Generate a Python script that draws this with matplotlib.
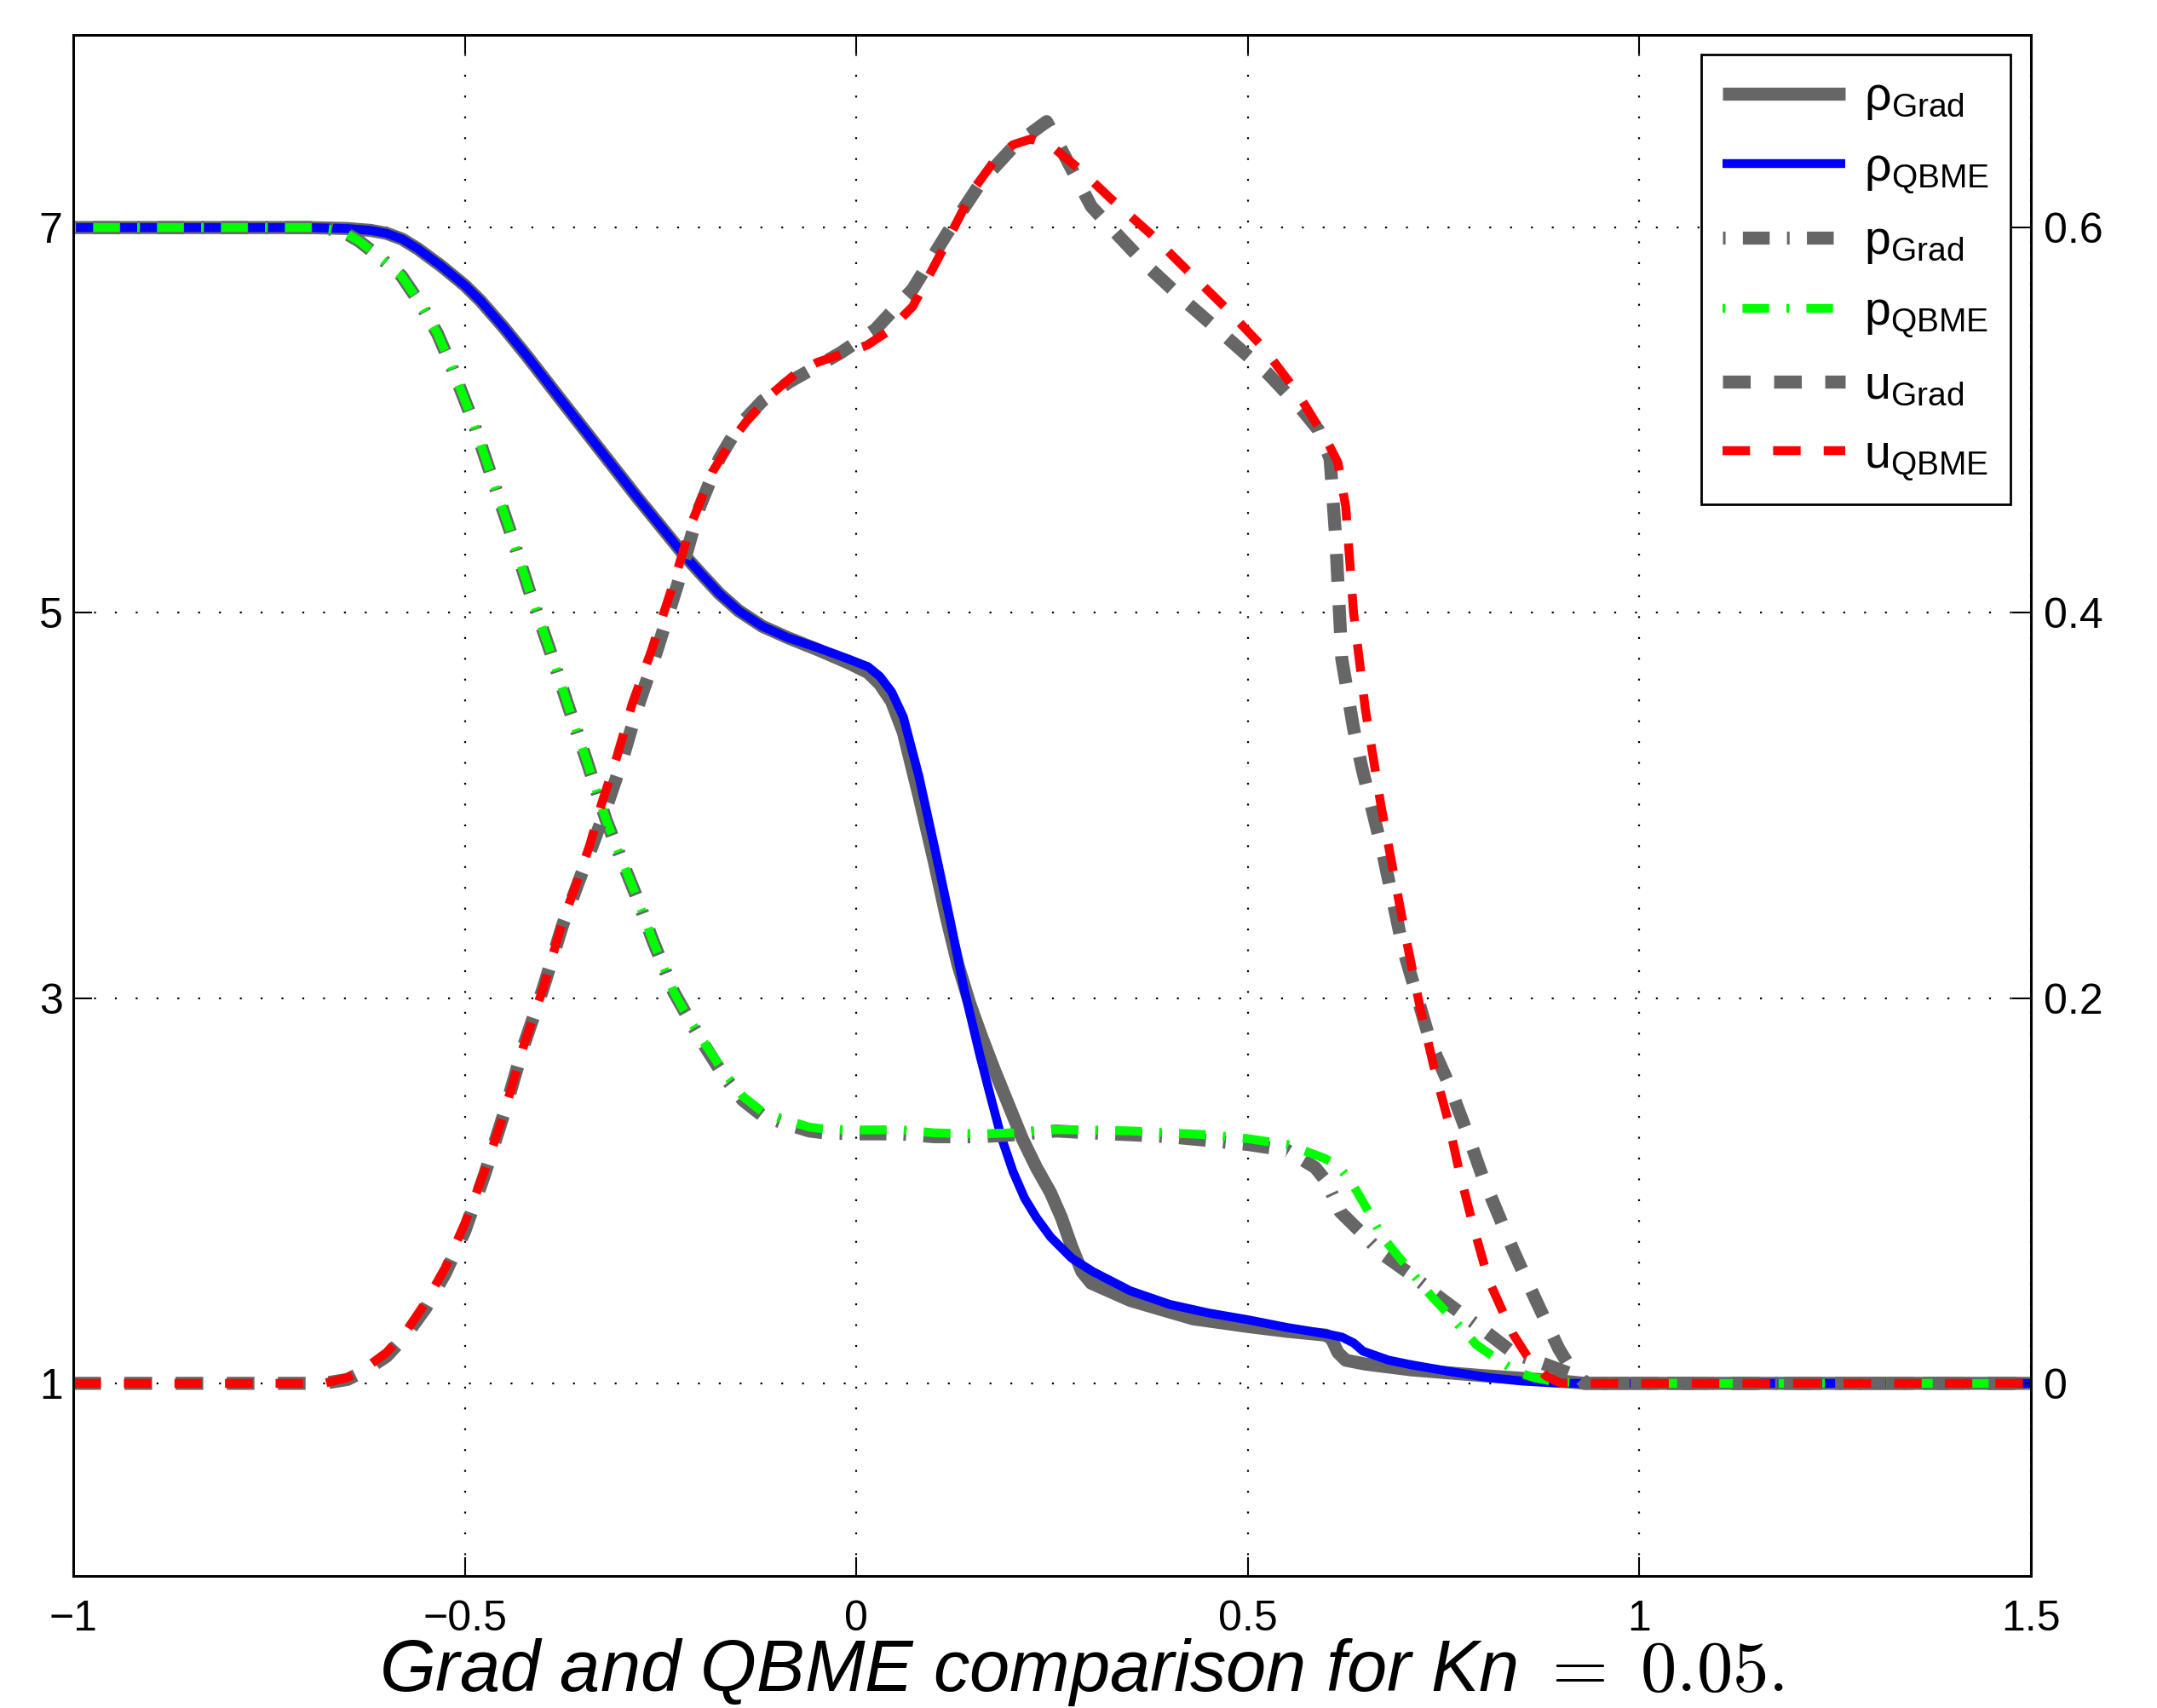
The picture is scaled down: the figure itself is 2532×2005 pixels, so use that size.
import numpy as np
import matplotlib
matplotlib.use('Agg')
from matplotlib import pyplot as plt

plt.rcParams['font.family'] = ['Liberation Sans', 'DejaVu Sans']
plt.rcParams['mathtext.fontset'] = 'custom'
plt.rcParams['mathtext.rm'] = 'Liberation Sans'
plt.rcParams['mathtext.it'] = 'Liberation Sans:italic'
plt.rcParams['axes.unicode_minus'] = True

# ---- data ----
# density (left axis)
x_rho_grad = [-1.0, -0.7, -0.65, -0.62, -0.6, -0.58, -0.56, -0.53, -0.5, -0.48, -0.45, -0.42, -0.38,
              -0.33, -0.28, -0.25, -0.22, -0.2, -0.175, -0.15, -0.12, -0.087, -0.05, -0.01, 0.015, 0.03,
              0.045, 0.06, 0.08, 0.1, 0.115, 0.13, 0.145, 0.16, 0.176, 0.195, 0.212, 0.23, 0.248, 0.262,
              0.275, 0.288, 0.3, 0.35, 0.43, 0.5, 0.55, 0.6, 0.607, 0.615, 0.625, 0.65, 0.709, 0.8, 0.9,
              0.93, 1.0, 1.5]
rho_grad = [7.0, 7.0, 6.995, 6.985, 6.97, 6.94, 6.89, 6.80, 6.70, 6.62, 6.48, 6.33, 6.12,
            5.86, 5.60, 5.45, 5.30, 5.21, 5.10, 5.01, 4.93, 4.87, 4.81, 4.74, 4.69, 4.63,
            4.54, 4.38, 4.05, 3.70, 3.42, 3.17, 2.97, 2.80, 2.63, 2.44, 2.27, 2.12, 1.99, 1.86,
            1.71, 1.58, 1.52, 1.43, 1.335, 1.295, 1.27, 1.25, 1.23, 1.16, 1.12, 1.10, 1.07, 1.04, 1.012,
            1.0, 1.0, 1.0]

x_rho_qbme = [-1.0, -0.7, -0.65, -0.62, -0.6, -0.58, -0.56, -0.53, -0.5, -0.48, -0.45, -0.42, -0.38,
              -0.33, -0.28, -0.25, -0.22, -0.2, -0.175, -0.15, -0.12, -0.087, -0.05, -0.01, 0.015, 0.03,
              0.045, 0.06, 0.08, 0.1, 0.12, 0.138, 0.158, 0.172, 0.185, 0.2, 0.215, 0.23, 0.248, 0.275,
              0.302, 0.35, 0.4, 0.45, 0.5, 0.55, 0.6, 0.62, 0.635, 0.647, 0.68, 0.709, 0.76, 0.807, 0.85,
              0.9, 1.0, 1.5]
rho_qbme = [7.0, 7.0, 6.995, 6.985, 6.97, 6.94, 6.89, 6.80, 6.70, 6.62, 6.48, 6.33, 6.12,
            5.86, 5.60, 5.45, 5.30, 5.21, 5.10, 5.01, 4.93, 4.87, 4.82, 4.76, 4.72, 4.67,
            4.59, 4.46, 4.15, 3.78, 3.40, 3.04, 2.70, 2.48, 2.28, 2.10, 1.96, 1.86, 1.76, 1.65,
            1.58, 1.48, 1.41, 1.365, 1.33, 1.29, 1.257, 1.24, 1.21, 1.167, 1.12, 1.096, 1.06, 1.03, 1.012,
            1.0, 1.0, 1.0]

# pressure (left axis)
x_p_grad = [-1.0, -0.69, -0.67, -0.652, -0.635, -0.61, -0.581, -0.556, -0.535, -0.519, -0.49, -0.466,
            -0.44, -0.418, -0.39, -0.369, -0.345, -0.32, -0.3, -0.28, -0.26, -0.233, -0.215, -0.198,
            -0.17, -0.145, -0.12, -0.092, -0.06, -0.04, 0.0, 0.056, 0.1, 0.158, 0.2, 0.255, 0.3, 0.353,
            0.4, 0.451, 0.5, 0.55, 0.586, 0.6, 0.618, 0.643, 0.672, 0.71, 0.742, 0.77, 0.8, 0.84,
            0.879, 0.912, 0.935, 1.0, 1.5]
p_grad = [7.0, 7.0, 6.99, 6.97, 6.93, 6.85, 6.75, 6.60, 6.45, 6.30, 6.00, 5.71,
          5.40, 5.12, 4.79, 4.53, 4.24, 3.93, 3.72, 3.52, 3.30, 3.03, 2.90, 2.78,
          2.60, 2.47, 2.39, 2.35, 2.31, 2.30, 2.295, 2.295, 2.28, 2.28, 2.29, 2.31, 2.30, 2.29,
          2.28, 2.26, 2.24, 2.21, 2.12, 2.05, 1.89, 1.79, 1.67, 1.56, 1.455, 1.37, 1.28, 1.155,
          1.10, 1.05, 1.0, 1.0, 1.0]

x_p_qbme = [-1.0, -0.69, -0.67, -0.652, -0.635, -0.61, -0.581, -0.556, -0.535, -0.519, -0.49, -0.466,
            -0.44, -0.418, -0.39, -0.369, -0.345, -0.32, -0.3, -0.28, -0.26, -0.233, -0.215, -0.198,
            -0.17, -0.145, -0.12, -0.092, -0.06, -0.04, 0.0, 0.056, 0.1, 0.158, 0.2, 0.255, 0.3, 0.353,
            0.4, 0.451, 0.5, 0.55, 0.597, 0.615, 0.633, 0.65, 0.672, 0.7, 0.735, 0.765, 0.792, 0.82,
            0.843, 0.865, 0.89, 0.92, 1.0, 1.5]
p_qbme = [7.0, 7.0, 6.99, 6.97, 6.93, 6.85, 6.75, 6.60, 6.45, 6.30, 6.00, 5.71,
          5.40, 5.12, 4.79, 4.53, 4.24, 3.93, 3.72, 3.52, 3.30, 3.03, 2.90, 2.79,
          2.62, 2.49, 2.41, 2.37, 2.33, 2.32, 2.315, 2.317, 2.30, 2.295, 2.30, 2.317, 2.315, 2.31,
          2.30, 2.29, 2.27, 2.24, 2.17, 2.13, 2.04, 1.92, 1.76, 1.62, 1.45, 1.32, 1.20, 1.12,
          1.06, 1.03, 1.01, 1.0, 1.0, 1.0]

# velocity (right axis)
x_u_grad = [-1.0, -0.68, -0.65, -0.63, -0.6, -0.575, -0.55, -0.525, -0.5, -0.475, -0.45, -0.425, -0.4,
            -0.375, -0.355, -0.34, -0.32, -0.3, -0.28, -0.255, -0.228, -0.2, -0.175, -0.15, -0.12,
            -0.085, -0.05, -0.02, 0.024, 0.072, 0.116, 0.16, 0.203, 0.243, 0.269, 0.3, 0.325, 0.369,
            0.422, 0.473, 0.526, 0.57, 0.59, 0.605, 0.612, 0.62, 0.635, 0.646, 0.672, 0.698, 0.734,
            0.756, 0.78, 0.8, 0.84, 0.868, 0.897, 0.912, 0.93, 1.0, 1.5]
u_grad = [0.0, 0.0, 0.002, 0.006, 0.014, 0.025, 0.039, 0.057, 0.079, 0.108, 0.14, 0.175, 0.205,
          0.238, 0.26, 0.276, 0.298, 0.322, 0.35, 0.38, 0.415, 0.455, 0.48, 0.497, 0.51,
          0.52, 0.528, 0.535, 0.547, 0.568, 0.597, 0.624, 0.643, 0.655, 0.635, 0.611, 0.60, 0.581,
          0.561, 0.543, 0.524, 0.505, 0.495, 0.48, 0.44, 0.376, 0.34, 0.319, 0.276, 0.226, 0.176,
          0.156, 0.13, 0.107, 0.068, 0.043, 0.018, 0.008, 0.0, 0.0, 0.0]

x_u_qbme = [-1.0, -0.68, -0.65, -0.63, -0.6, -0.575, -0.55, -0.525, -0.5, -0.475, -0.45, -0.425, -0.4,
            -0.375, -0.355, -0.34, -0.326, -0.306, -0.286, -0.262, -0.233, -0.21, -0.184, -0.16, -0.141,
            -0.11, -0.078, -0.05, -0.014, 0.014, 0.04, 0.072, 0.111, 0.15, 0.175, 0.2, 0.223, 0.25, 0.286,
            0.325, 0.375, 0.422, 0.47, 0.519, 0.562, 0.6, 0.615, 0.625, 0.635, 0.65, 0.67, 0.7, 0.72,
            0.74, 0.756, 0.77, 0.787, 0.807, 0.838, 0.86, 0.88, 0.9, 1.0, 1.5]
u_qbme = [0.0, 0.0, 0.003, 0.007, 0.016, 0.027, 0.042, 0.06, 0.083, 0.11, 0.14, 0.175, 0.205,
          0.24, 0.262, 0.28, 0.300, 0.325, 0.353, 0.380, 0.416, 0.447, 0.473, 0.489, 0.499,
          0.513, 0.524, 0.530, 0.535, 0.539, 0.546, 0.559, 0.589, 0.620, 0.634, 0.643, 0.646, 0.642, 0.630,
          0.615, 0.597, 0.578, 0.559, 0.538, 0.515, 0.49, 0.478, 0.455, 0.40, 0.35, 0.30, 0.235, 0.195,
          0.16, 0.136, 0.11, 0.083, 0.054, 0.026, 0.012, 0.004, 0.0, 0.0, 0.0]

x_ticks = [-1, -0.5, 0, 0.5, 1, 1.5]
x_ticklabels = ['\u22121', '\u22120.5', '0', '0.5', '1', '1.5']
y_ticks = [1, 3, 5, 7]
u_ticks = [0, 0.2, 0.4, 0.6]
u_ticklabels = ['0', '0.2', '0.4', '0.6']

GRAY = '#666666'
W, H = 2532, 2005
fig = plt.figure(figsize=(W / 100, H / 100), dpi=100)
ax = fig.add_axes([86 / W, 1 - 1850 / H, 2298 / W, 1809 / H])

lw_g, lw_c = 11, 7.5
l1, = ax.plot(x_rho_grad, rho_grad, color=GRAY, lw=lw_g, solid_capstyle='butt', solid_joinstyle='round')
l2, = ax.plot(x_rho_qbme, rho_qbme, color='#0000ff', lw=lw_c, solid_capstyle='butt', solid_joinstyle='round')
l3, = ax.plot(x_p_grad, p_grad, color=GRAY, lw=lw_g, linestyle=(0, (0.2, 1.33, 2.06, 1.33)))
l4, = ax.plot(x_p_qbme, p_qbme, color='#00ff00', lw=lw_c, linestyle=(0, (0.3, 1.95, 3.0, 1.95)))

ax.set_xlim(-1, 1.5)
ax.set_ylim(0, 8)
ax.set_xticks(x_ticks)
ax.set_xticklabels(x_ticklabels)
ax.set_yticks(y_ticks)
ax.grid(True, color='k', linestyle=(0, (1, 10)), linewidth=1.6)
ax.tick_params(axis='both', direction='in', length=16, width=1.5, labelsize=36)
ax.tick_params(axis='x', top=True, pad=20)
ax.tick_params(axis='y', right=False, pad=9)

ax2 = ax.twinx()
l5, = ax2.plot(x_u_grad, u_grad, color=GRAY, lw=lw_g, linestyle=(0, (2.13, 1.8)))
l6, = ax2.plot(x_u_qbme, u_qbme, color='#ff0000', lw=lw_c, linestyle=(0, (3.1, 2.6)))
ax2.set_ylim(-0.1, 0.7)
ax2.set_yticks(u_ticks)
ax2.set_yticklabels(u_ticklabels)
ax2.tick_params(axis='y', direction='in', length=16, width=1.5, labelsize=36, pad=11)

for a in (ax, ax2):
    for s in a.spines.values():
        s.set_linewidth(2)

labels = [r'$\mathregular{\rho_{Grad}}$', r'$\mathregular{\rho_{QBME}}$',
          r'$\mathregular{p_{Grad}}$', r'$\mathregular{p_{QBME}}$',
          r'$\mathregular{u_{Grad}}$', r'$\mathregular{u_{QBME}}$']
leg = ax2.legend([l1, l2, l3, l4, l5, l6], labels, loc='upper right',
                 bbox_to_anchor=(0.9896, 0.9873), borderaxespad=0, fontsize=40,
                 handlelength=2.6, handletextpad=0.4, labelspacing=0.52, borderpad=0.45,
                 fancybox=False, framealpha=1, edgecolor='k')
leg.get_frame().set_linewidth(2)

fig.text(1270 / W, 20 / H, 'Grad and QBME comparison for Kn $=$ $0.05.$', ha='center', va='baseline',
         fontsize=61, style='italic', math_fontfamily='cm')

plt.savefig('out.png', dpi=100)
